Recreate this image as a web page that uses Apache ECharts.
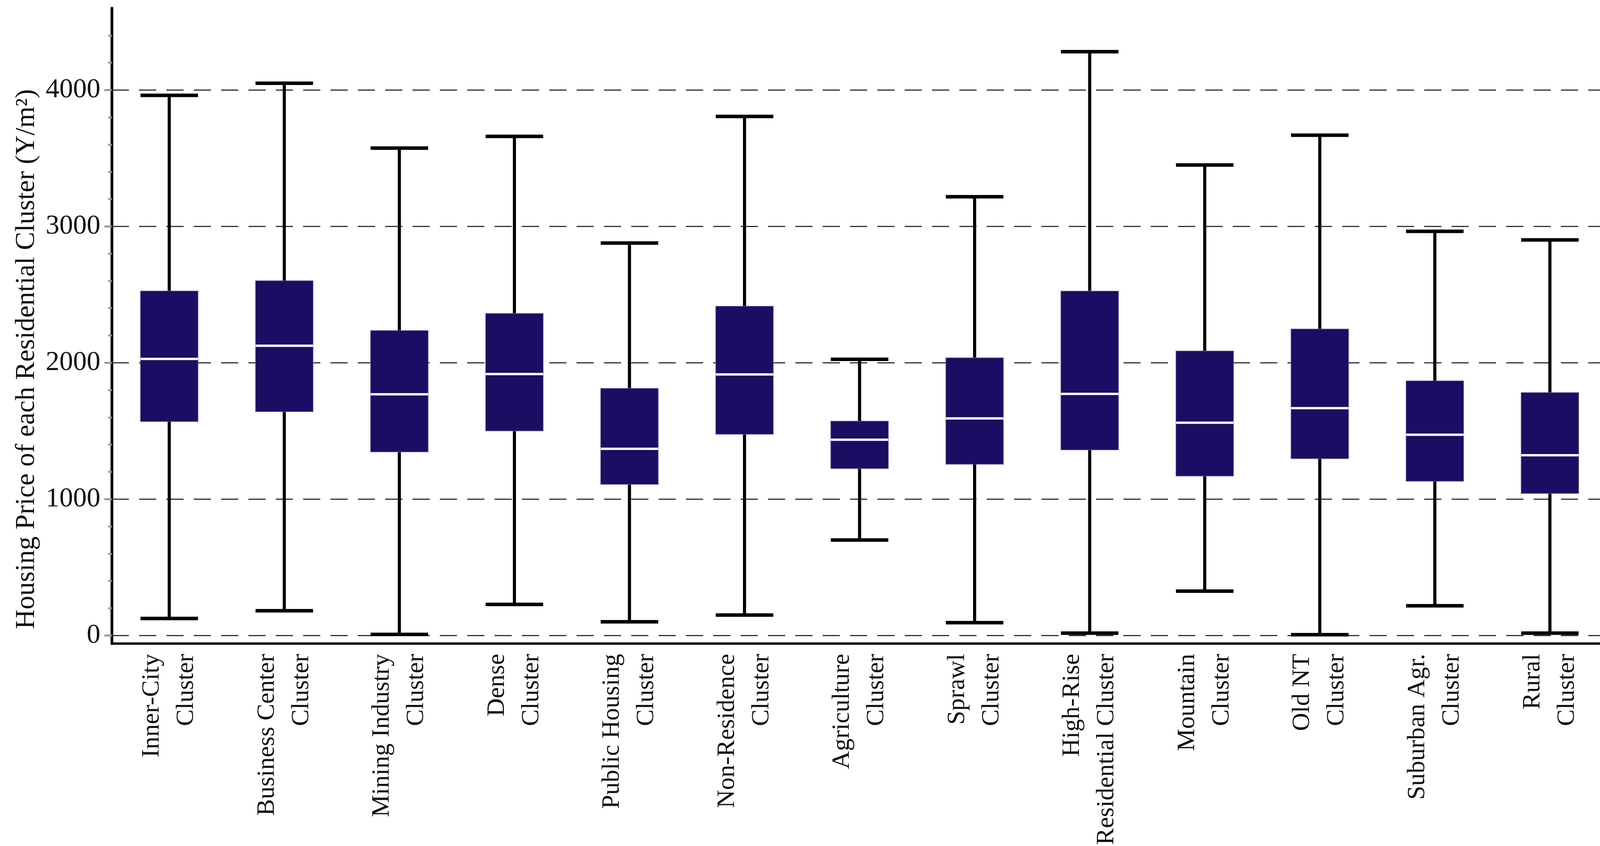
<!DOCTYPE html>
<html>
<head>
<meta charset="utf-8">
<script src="https://cdn.jsdelivr.net/npm/echarts@6/dist/echarts.min.js"></script>
<style>
html,body{margin:0;padding:0;background:#fff;}
#chart{width:4155px;height:2165px;}
</style>
</head>
<body>
<div id="chart"></div>
<script>
// ---- data ----
const categories = [
  "Inner-City\nCluster",
  "Business Center\nCluster",
  "Mining Industry\nCluster",
  "Dense\nCluster",
  "Public Housing\nCluster",
  "Non-Residence\nCluster",
  "Agriculture\nCluster",
  "Sprawl\nCluster",
  "High-Rise\nResidential Cluster",
  "Mountain\nCluster",
  "Old NT\nCluster",
  "Suburban Agr.\nCluster",
  "Rural\nCluster"
];
const whiskerLow  = [125, 181,    8, 228, 100, 150,  700,   94,   17,  325,    6,  218,   17];
const quartile1   = [1569, 1641, 1346, 1500, 1108, 1476, 1224, 1256, 1361, 1169, 1297, 1131, 1042];
const medians     = [2028, 2125, 1769, 1917, 1369, 1914, 1436, 1592, 1772, 1560, 1667, 1472, 1322];
const quartile3   = [2526, 2601, 2236, 2361, 1812, 2414, 1572, 2036, 2525, 2086, 2247, 1867, 1781];
const whiskerHigh = [3961, 4050, 3574, 3660, 2878, 3806, 2025, 3217, 4281, 3450, 3669, 2964, 2901];
const yTickValues = [0, 1000, 2000, 3000, 4000];
const yAxisTitle = "Housing Price of each Residential Cluster (Y/m\u00B2)";

const boxData = categories.map((c, i) => [i, whiskerLow[i], quartile1[i], medians[i], quartile3[i], whiskerHigh[i]]);

const FONT = '"Liberation Serif", "Times New Roman", serif';

function renderBox(params, api) {
  const x = api.value(0);
  const lo = api.coord([x, api.value(1)]);
  const q1 = api.coord([x, api.value(2)]);
  const md = api.coord([x, api.value(3)]);
  const q3 = api.coord([x, api.value(4)]);
  const hi = api.coord([x, api.value(5)]);
  const bw = api.size([1, 0])[0] * 0.5;
  const cx = lo[0];
  return {
    type: 'group',
    children: [
      {type: 'line', shape: {x1: cx, y1: hi[1], x2: cx, y2: lo[1]}, style: {stroke: '#000', lineWidth: 8}},
      {type: 'line', shape: {x1: cx - bw / 2, y1: hi[1], x2: cx + bw / 2, y2: hi[1]}, style: {stroke: '#000', lineWidth: 9}},
      {type: 'line', shape: {x1: cx - bw / 2, y1: lo[1], x2: cx + bw / 2, y2: lo[1]}, style: {stroke: '#000', lineWidth: 9}},
      {type: 'rect', shape: {x: cx - bw / 2, y: q3[1], width: bw, height: q1[1] - q3[1]},
        style: {fill: '#1b0d63', stroke: '#5d569a', lineWidth: 1.5}},
      {type: 'line', shape: {x1: cx - bw / 2, y1: md[1], x2: cx + bw / 2, y2: md[1]}, style: {stroke: '#ffffff', lineWidth: 6}}
    ]
  };
}

const chart = echarts.init(document.getElementById('chart'), null, {renderer: 'canvas'});
chart.setOption({
  backgroundColor: '#ffffff',
  animation: false,
  grid: {left: 286, right: 40, top: 21, bottom: 468, containLabel: false},
  xAxis: {
    type: 'category',
    data: categories,
    boundaryGap: true,
    axisLine: {show: true, onZero: false, lineStyle: {color: '#000', width: 6}},
    axisTick: {show: false},
    splitLine: {show: false},
    axisLabel: {
      interval: 0,
      rotate: 90,
      margin: 26,
      fontFamily: FONT,
      fontSize: 64,
      lineHeight: 88,
      color: '#111'
    }
  },
  yAxis: {
    type: 'value',
    min: -60,
    max: 4600,
    name: yAxisTitle,
    nameLocation: 'middle',
    nameGap: 182,
    nameTextStyle: {fontFamily: FONT, fontSize: 70, color: '#111', padding: [0, 170, 0, 0]},
    axisLine: {show: true, onZero: false, lineStyle: {color: '#000', width: 7}},
    axisTick: {show: true, customValues: yTickValues, length: 19, lineStyle: {color: '#999', width: 5}},
    minorTick: {show: true, splitNumber: 5, length: 9, lineStyle: {color: '#999', width: 5}},
    axisLabel: {
      customValues: yTickValues,
      formatter: function (v) { return String(v); },
      margin: 29,
      fontFamily: FONT,
      fontSize: 70,
      color: '#111',
      verticalAlign: 'middle',
      padding: [0, 0, 36, 0]
    },
    splitLine: {show: true, lineStyle: {color: '#333', width: 3, type: [44, 26]}},
    minorSplitLine: {show: false}
  },
  series: [{
    type: 'custom',
    renderItem: renderBox,
    encode: {x: 0, y: [1, 2, 3, 4, 5]},
    data: boxData,
    clip: false
  }]
});
</script>
</body>
</html>
